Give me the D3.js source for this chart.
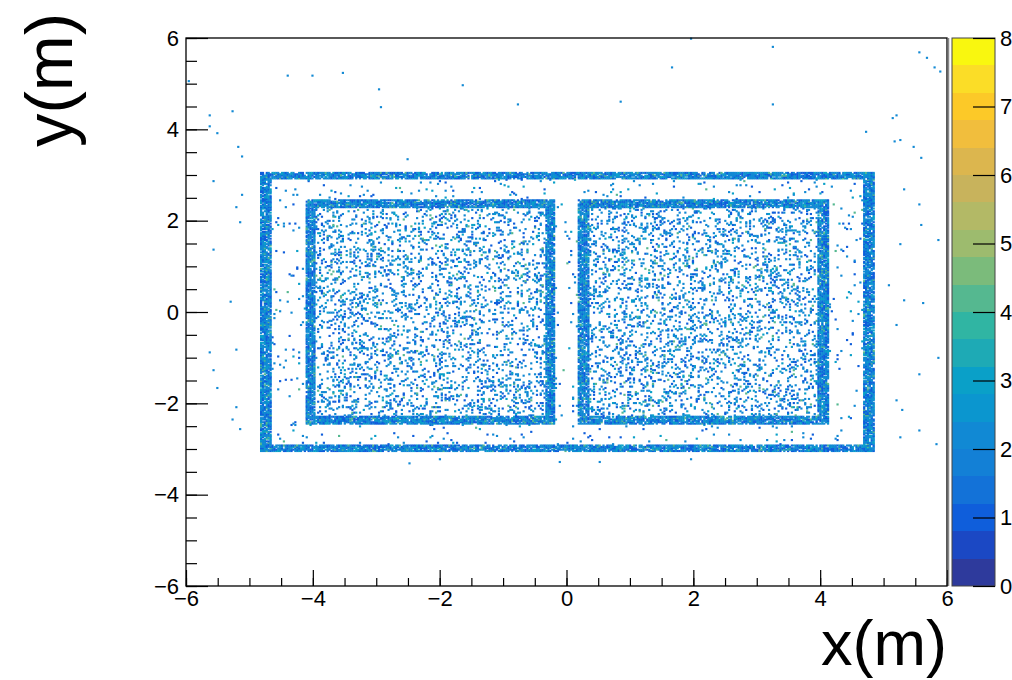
<!DOCTYPE html>
<html>
<head>
<meta charset="utf-8">
<title>y(m) vs x(m)</title>
<script src="https://cdn.jsdelivr.net/npm/d3@7/dist/d3.min.js"></script>
<style>
    html, body { margin: 0; padding: 0; background: #fff; }
    svg { display: block; font-family: "Liberation Sans", Helvetica, Arial, sans-serif; }
</style>
</head>
<body>
<div id="chart"></div>
<script>
// axis ranges (m) and histogram binning
var xDomain = [-6, 6],
    yDomain = [-6, 6],
    nBins = 400;

var xMajorTicks = [-6, -4, -2, 0, 2, 4, 6],
    yMajorTicks = [-6, -4, -2, 0, 2, 4, 6],
    minorStep = 0.5,
    zTicks = [0, 1, 2, 3, 4, 5, 6, 7, 8];

// 20 contour colours of the z palette, bottom (0) to top (8)
var zColors = ["#2e3a9c", "#1b48c4", "#0f5edb", "#1372d8", "#1380d6",
               "#1189d4", "#0b96cf", "#0aa0c8", "#1eaab5", "#30b5a3",
               "#55b890", "#7bbb7b", "#9dbb6e", "#b3b966", "#c8b35c",
               "#dcb64e", "#f1be3d", "#fcc928", "#fbdd27", "#f9f70f"];

// the three rectangular walls seen in the picture: outer, left, right (m)
var wallLeft   = [-4.84, -4.12,  0.18],
    wallRight  = [ 4.85, -0.17,  4.13],
    wallBottom = [-3.07, -2.46, -2.46],
    wallTop    = [ 3.07,  2.45,  2.45],
    wallThickX = [ 0.18,  0.17,  0.17],
    wallThickY = [ 0.17,  0.18,  0.18],
    wallHit    = [ 0.85,  0.85,  0.85],   // fraction of bins filled on the wall
    insideHit  = [ 0.022, 0.16,  0.16];   // fraction of bins filled inside

// bin contents seen and how often they occur
var binCounts = [1, 2, 3, 4],
    countShare = [0.3, 0.5, 0.15, 0.05];

// isolated hits outside the walls (m)
var strayX = [-5.97, -4.41, -4.00, -3.54, -5.26, -5.62, -5.62, -5.51, -5.18, -5.13,
              -5.57, -5.12, -5.20, -5.15, -5.56, -5.31, -5.62, -5.20, -5.57, -5.50,
              -5.20, -5.27, -5.15, -2.97, -2.94, -1.63, -0.78,  0.84,  1.66,  1.95,
               3.26,  3.26,  4.72,  5.15,  5.21,  5.18,  5.26,  5.57,  5.67,  5.81,
               5.89,  5.48,  5.59,  5.32,  5.57,  5.59,  5.26,  5.86,  5.08,  5.32,
               5.61,  5.21,  5.86,  5.57,  5.21,  5.31,  5.57,  5.26,  5.84, -2.52,
              -2.47, -1.99, -0.10,  0.53,  1.95],
    strayY = [ 5.04,  5.17,  5.17,  5.23,  4.40,  4.31,  4.05,  3.92,  3.61,  3.39,
               2.87,  2.56,  2.30,  1.95,  1.36,  0.22, -0.90, -0.83, -1.27, -1.66,
              -2.10, -2.36, -2.58,  4.86,  4.47,  4.97,  4.53,  4.60,  5.34,  5.98,
               5.80,  4.55,  3.94,  4.25,  4.29,  3.72,  3.77,  5.69,  5.56,  5.36,
               5.26,  3.61,  3.37,  2.67,  2.34,  1.91,  1.47,  1.58,  0.59,  0.26,
               0.20, -0.28, -1.01, -1.38, -1.93, -2.15, -2.61, -2.76, -2.91,  3.33,
              -3.31, -3.24, -3.28, -3.28, -3.24];

(function drawChart (d3) {
    "use strict";
    var width = 1012,
        height = 680,
        plot = {left: 186, right: 947, top: 38, bottom: 586},
        bar = {left: 952, right: 995},
        fontFamily = "'Liberation Sans', Helvetica, Arial, sans-serif",
        binW = (xDomain[1] - xDomain[0]) / nBins,
        bins = [],
        svg, x, y, z;

    // scatter texture inside a region: deterministic hash of the bin index
    function speckle (i, j, k) {
        var h = Math.imul(i, 374761393) ^ Math.imul(j, 668265263) ^ Math.imul(k, 1274126177);
        h = Math.imul(h ^ (h >>> 13), 1274126177);
        h = h ^ (h >>> 16);
        return (h >>> 0) / 4294967296;
    }

    function pickCount (u) {
        var acc = 0;
        for (var c = 0; c < binCounts.length; c++) {
            acc += countShare[c];
            if (u < acc) return binCounts[c];
        }
        return binCounts[binCounts.length - 1];
    }

    function inside (px, py, w, shrink) {
        var sx = shrink ? wallThickX[w] : 0,
            sy = shrink ? wallThickY[w] : 0;
        return px >= wallLeft[w] + sx && px <= wallRight[w] - sx &&
               py >= wallBottom[w] + sy && py <= wallTop[w] - sy;
    }

    // fill probability of a bin centre: inner walls first, then the outer one
    function hitFraction (px, py) {
        var order = [1, 2, 0];
        for (var n = 0; n < order.length; n++) {
            var w = order[n];
            if (inside(px, py, w, false)) {
                return inside(px, py, w, true) ? insideHit[w] : wallHit[w];
            }
        }
        return 0;
    }

    for (var i = 0; i < nBins; i++) {
        for (var j = 0; j < nBins; j++) {
            var cx = xDomain[0] + (i + 0.5) * binW,
                cy = yDomain[0] + (j + 0.5) * binW,
                f = hitFraction(cx, cy);
            if (f > 0 && speckle(i, j, 1) < f) {
                bins.push({x: xDomain[0] + i * binW, y: yDomain[0] + j * binW, z: pickCount(speckle(i, j, 7))});
            }
        }
    }
    strayX.forEach(function (sx, k) {
        var bi = Math.floor((sx - xDomain[0]) / binW),
            bj = Math.floor((strayY[k] - yDomain[0]) / binW);
        bins.push({x: xDomain[0] + bi * binW, y: yDomain[0] + bj * binW, z: 2});
    });

    x = d3.scaleLinear().domain(xDomain).range([plot.left, plot.right]);
    y = d3.scaleLinear().domain(yDomain).range([plot.bottom, plot.top]);
    z = d3.scaleLinear().domain([zTicks[0], zTicks[zTicks.length - 1]]).range([plot.bottom, plot.top]);

    function zColor (v) {
        var k = Math.floor((v - zTicks[0]) / (zTicks[zTicks.length - 1] - zTicks[0]) * zColors.length);
        return zColors[Math.max(0, Math.min(zColors.length - 1, k))];
    }

    svg = d3.select("#chart").append("svg")
        .attr("width", width)
        .attr("height", height);
    svg.append("rect").attr("width", width).attr("height", height).attr("fill", "#fff");

    // histogram cells
    svg.append("g")
        .selectAll("rect")
        .data(bins)
        .enter().append("rect")
        .attr("x", function (d) { return x(d.x) - 0.2; })
        .attr("y", function (d) { return y(d.y + binW) - 0.4; })
        .attr("width", 2.2)
        .attr("height", 2.1)
        .attr("fill", function (d) { return zColor(d.z); });

    // axes, ticks pointing into the frame
    var minorX = d3.range(xDomain[0], xDomain[1] + 1e-9, minorStep),
        minorY = d3.range(yDomain[0], yDomain[1] + 1e-9, minorStep);

    svg.append("g")
        .attr("transform", "translate(0," + plot.bottom + ")")
        .call(d3.axisBottom(x).tickValues(minorX).tickSize(-8).tickFormat(""))
        .call(function (g) { g.select(".domain").remove(); });
    svg.append("g")
        .attr("class", "xaxis")
        .attr("transform", "translate(0," + plot.bottom + ")")
        .call(d3.axisBottom(x).tickValues(xMajorTicks).tickSize(-16).tickPadding(4))
        .call(function (g) { g.select(".domain").remove(); });

    svg.append("g")
        .attr("transform", "translate(" + plot.left + ",0)")
        .call(d3.axisLeft(y).tickValues(minorY).tickSize(-11).tickFormat(""))
        .call(function (g) { g.select(".domain").remove(); });
    svg.append("g")
        .attr("class", "yaxis")
        .attr("transform", "translate(" + plot.left + ",0)")
        .call(d3.axisLeft(y).tickValues(yMajorTicks).tickSize(-22).tickPadding(7))
        .call(function (g) { g.select(".domain").remove(); });

    svg.selectAll(".xaxis text, .yaxis text")
        .attr("font-size", 22)
        .attr("font-family", fontFamily)
        .attr("fill", "#000");
    svg.selectAll(".tick line").attr("stroke", "#000").attr("stroke-width", 1.2);

    svg.append("rect")
        .attr("x", plot.left)
        .attr("y", plot.top)
        .attr("width", plot.right - plot.left)
        .attr("height", plot.bottom - plot.top)
        .attr("fill", "none")
        .attr("stroke", "#000")
        .attr("stroke-width", 1.3);
    svg.append("line")
        .attr("x1", plot.right + 1.5).attr("x2", plot.right + 1.5)
        .attr("y1", plot.top).attr("y2", plot.bottom)
        .attr("stroke", "#888").attr("stroke-width", 1.5);

    // colour scale
    var step = (zTicks[zTicks.length - 1] - zTicks[0]) / zColors.length;
    svg.append("g")
        .attr("shape-rendering", "crispEdges")
        .selectAll("rect")
        .data(zColors)
        .enter().append("rect")
        .attr("x", bar.left)
        .attr("width", bar.right - bar.left)
        .attr("y", function (d, k) { return z(zTicks[0] + (k + 1) * step); })
        .attr("height", function (d, k) { return z(zTicks[0] + k * step) - z(zTicks[0] + (k + 1) * step); })
        .attr("fill", function (d) { return d; });
    svg.append("rect")
        .attr("x", bar.left)
        .attr("y", plot.top)
        .attr("width", bar.right - bar.left)
        .attr("height", plot.bottom - plot.top)
        .attr("fill", "none")
        .attr("stroke", "#444")
        .attr("stroke-width", 1);
    svg.append("g")
        .attr("class", "zaxis")
        .attr("transform", "translate(" + bar.right + ",0)")
        .call(d3.axisRight(z).tickValues(zTicks).tickSize(-22).tickPadding(5).tickFormat(d3.format("d")))
        .call(function (g) { g.select(".domain").remove(); });
    svg.selectAll(".zaxis text")
        .attr("font-size", 22)
        .attr("font-family", fontFamily)
        .attr("fill", "#000");
    svg.selectAll(".zaxis line").attr("stroke", "#000").attr("stroke-width", 1.2);

    // axis titles
    svg.append("text")
        .attr("x", plot.right)
        .attr("y", 665)
        .attr("text-anchor", "end")
        .attr("font-size", 63)
        .text("x(m)");
    svg.append("text")
        .attr("transform", "translate(72,13)rotate(-90)")
        .attr("text-anchor", "end")
        .attr("font-size", 67)
        .text("y(m)");
})(window.d3);
</script>
</body>
</html>
